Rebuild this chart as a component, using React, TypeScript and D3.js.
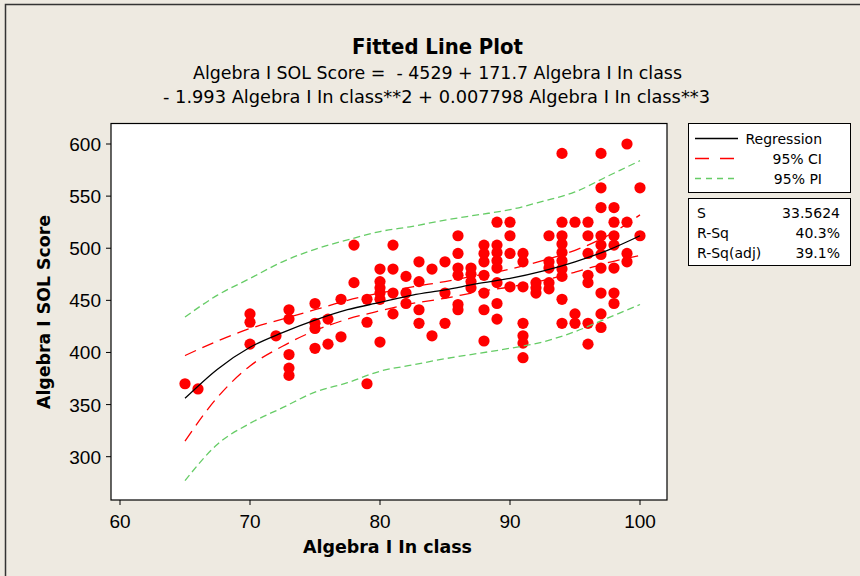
import React from "react";
import * as d3 from "d3";

const inClass = [
  65, 66,
  70, 70, 70, 72,
  73, 73, 73, 73, 73,
  75, 75, 75, 75, 76, 76, 77, 77, 78, 78, 79, 79, 79,
  80, 80, 80, 80, 80, 80,
  81, 81, 81, 81, 82, 82, 82,
  83, 83, 83, 83, 84, 84, 85, 85, 85,
  86, 86, 86, 86, 86, 86, 87, 87, 87, 87,
  88, 88, 88, 88, 88, 88, 88,
  89, 89, 89, 89, 89, 89, 89, 89,
  90, 90, 90, 90,
  91, 91, 91, 91, 91, 91, 91,
  92, 92, 92, 93, 93, 93, 93, 93,
  94, 94, 94, 94, 94, 94, 94, 94, 94, 94,
  95, 95, 95,
  96, 96, 96, 96, 96, 96, 96,
  97, 97, 97, 97, 97, 97, 97, 97, 97, 97,
  98, 98, 98, 98, 98, 98, 98,
  99, 99, 99, 99, 100, 100,
];
const solScore = [
  370, 365,
  437, 429, 408, 416,
  441, 432, 398, 385, 378,
  447, 428, 423, 404, 432, 408, 451, 415, 503, 467, 451, 429, 370,
  480, 468, 462, 457, 451, 410,
  503, 480, 457, 437, 473, 457, 447,
  487, 468, 441, 428, 480, 416, 487, 457, 428,
  512, 495, 481, 474, 446, 441, 481, 475, 468, 462,
  503, 495, 487, 474, 457, 441, 411,
  525, 503, 496, 488, 481, 467, 447, 432,
  525, 512, 495, 463,
  495, 487, 463, 428, 416, 409, 395,
  467, 462, 457, 512, 487, 481, 467, 461,
  591, 525, 512, 504, 496, 488, 480, 473, 451, 428,
  525, 437, 428,
  525, 512, 495, 474, 467, 428, 408,
  591, 558, 539, 512, 503, 494, 481, 457, 437, 424,
  539, 525, 512, 503, 481, 457, 447,
  600, 525, 495, 487, 558, 512,
];

const fitX = [65, 67.5, 70, 72.5, 75, 77.5, 80, 82.5, 85, 87.5, 90, 92.5, 95, 97.5, 100];
const fitY = [356, 384, 405, 419, 431, 441, 448, 455, 460, 466, 471, 478, 487, 498, 512];
const ciUpper = [397, 411, 423, 432, 441, 450, 457, 463, 468, 474, 480, 488, 498, 512, 532];
const ciLower = [315, 357, 387, 406, 421, 432, 440, 447, 452, 458, 463, 469, 477, 486, 493];
const piUpper = [434, 455, 471, 487, 499, 508, 516, 521, 527, 532, 537, 545, 554, 569, 584];
const piLower = [277, 312, 332, 347, 362, 371, 382, 388, 394, 399, 404, 410, 420, 433, 446];

const xTicks = [60, 70, 80, 90, 100];
const yTicks = [300, 350, 400, 450, 500, 550, 600];

const titleText = "Fitted Line Plot";
const sub1 = "Algebra I SOL Score =  - 4529 + 171.7 Algebra I In class";
const sub2 = "- 1.993 Algebra I In class**2 + 0.007798 Algebra I In class**3";
const xTitle = "Algebra I In class";
const yTitle = "Algebra I SOL Score";
const legendLabels = ["Regression", "95% CI", "95% PI"];
const statNames = ["S", "R-Sq", "R-Sq(adj)"];
const statValues = ["33.5624", "40.3%", "39.1%"];

const FONT = "Tahoma, 'DejaVu Sans', sans-serif";
const TICK_FONT = "'Liberation Sans', Arial, sans-serif";

export default function App() {
  const x = d3.scaleLinear().domain([60, 100]).range([120, 640]);
  const y = d3.scaleLinear().domain([300, 600]).range([456.7, 144]);
  const line = (ys: number[]) =>
    d3
      .line<number>()
      .x((_, i) => x(fitX[i]))
      .y((v) => y(v))
      .curve(d3.curveMonotoneX)(ys) as string;

  const plot = { left: 111, top: 123.5, right: 667, bottom: 500 };
  const legendStyles = [
    { stroke: "#000000", dash: "none" },
    { stroke: "#FF0000", dash: "14,11" },
    { stroke: "#66CC66", dash: "6,5" },
  ];

  return (
    <svg
      width={860}
      height={576}
      style={{ position: "absolute", left: 0, top: 0 }}
      fontFamily={FONT}
    >
      <rect x={0} y={0} width={860} height={576} fill="#EEEAE1" />
      <rect x={5.5} y={4.5} width={900} height={700} fill="none" stroke="#333" strokeWidth={1.5} />

      <text x={437.5} y={54} textAnchor="middle" fontSize={21} fontWeight="bold" textLength={171} lengthAdjust="spacingAndGlyphs">
        {titleText}
      </text>
      <text x={437.5} y={79} textAnchor="middle" fontSize={18} textLength={489} lengthAdjust="spacingAndGlyphs" style={{ whiteSpace: "pre" }}>
        {sub1}
      </text>
      <text x={436.5} y={103} textAnchor="middle" fontSize={18} textLength={547} lengthAdjust="spacingAndGlyphs">
        {sub2}
      </text>

      <rect x={plot.left} y={plot.top} width={plot.right - plot.left} height={plot.bottom - plot.top} fill="#FFFFFF" stroke="#000" strokeWidth={1.2} />

      <g clipPath="url(#clip)">
        <clipPath id="clip">
          <rect x={plot.left} y={plot.top} width={plot.right - plot.left} height={plot.bottom - plot.top} />
        </clipPath>
        {inClass.map((v, i) => (
          <circle key={i} cx={x(v)} cy={y(solScore[i])} r={5.6} fill="#FF0000" />
        ))}
        <path d={line(piUpper)} fill="none" stroke="#66CC66" strokeWidth={1.3} strokeDasharray="7,4" />
        <path d={line(piLower)} fill="none" stroke="#66CC66" strokeWidth={1.3} strokeDasharray="7,4" />
        <path d={line(ciUpper)} fill="none" stroke="#FF0000" strokeWidth={1.3} strokeDasharray="12,7" />
        <path d={line(ciLower)} fill="none" stroke="#FF0000" strokeWidth={1.3} strokeDasharray="12,7" />
        <path d={line(fitY)} fill="none" stroke="#000000" strokeWidth={1.3} />
      </g>

      {xTicks.map((t) => (
        <g key={t}>
          <line x1={x(t)} x2={x(t)} y1={plot.bottom} y2={plot.bottom + 5} stroke="#000" />
          <text x={x(t)} y={528} textAnchor="middle" fontSize={19} fontFamily={TICK_FONT}>
            {t}
          </text>
        </g>
      ))}
      {yTicks.map((t) => (
        <g key={t}>
          <line x1={plot.left - 5} x2={plot.left} y1={y(t)} y2={y(t)} stroke="#000" />
          <text x={101} y={y(t) + 7} textAnchor="end" fontSize={19} fontFamily={TICK_FONT}>
            {t}
          </text>
        </g>
      ))}

      <text x={387.5} y={553} textAnchor="middle" fontSize={18} fontWeight="bold" textLength={169} lengthAdjust="spacingAndGlyphs">
        {xTitle}
      </text>
      <text
        transform={`translate(50,312) rotate(-90)`}
        textAnchor="middle"
        fontSize={18}
        fontWeight="bold"
        textLength={194}
        lengthAdjust="spacingAndGlyphs"
      >
        {yTitle}
      </text>

      <rect x={688.5} y={123.5} width={162} height={69} fill="#FFFFFF" stroke="#000" />
      {legendLabels.map((lab, i) => (
        <g key={lab}>
          <line x1={695} x2={738} y1={138.5 + i * 20} y2={138.5 + i * 20} stroke={legendStyles[i].stroke} strokeWidth={1.3} strokeDasharray={legendStyles[i].dash} />
          <text x={822} y={143.5 + i * 20} textAnchor="end" fontSize={14}>
            {lab}
          </text>
        </g>
      ))}

      <rect x={688.5} y={198.5} width={162} height={67} fill="#FFFFFF" stroke="#000" />
      {statNames.map((n, i) => (
        <g key={n}>
          <text x={697} y={217.5 + i * 20} fontSize={14}>
            {n}
          </text>
          <text x={840} y={217.5 + i * 20} textAnchor="end" fontSize={14}>
            {statValues[i]}
          </text>
        </g>
      ))}
    </svg>
  );
}
